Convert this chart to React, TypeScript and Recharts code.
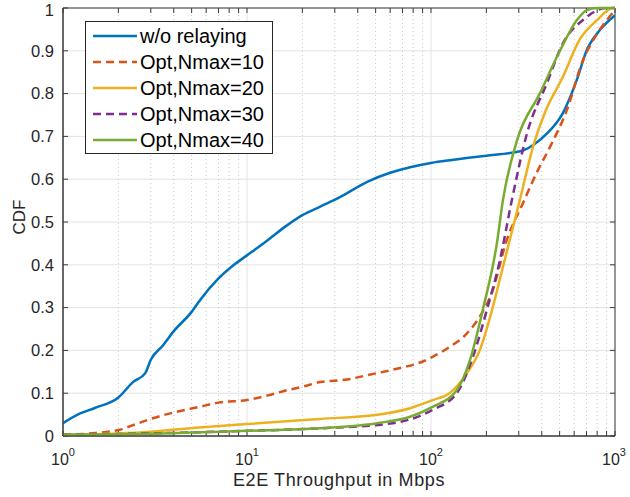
import React from 'react';
import { LineChart, Line, XAxis, YAxis, CartesianGrid, ReferenceLine, ReferenceArea, Legend } from 'recharts';

// series labels / colours (MATLAB default palette)
const seriesNames = ['w/o relaying', 'Opt,Nmax=10', 'Opt,Nmax=20', 'Opt,Nmax=30', 'Opt,Nmax=40'];
const seriesColors = ['#0072BD', '#D95319', '#EDB120', '#7E2F8E', '#77AC30'];
const seriesDashed = [false, true, false, true, false];

// throughput (Mbps) / CDF values
const noRelayX = [1, 1.2, 1.5, 2, 2.4, 2.8, 3, 3.5, 4, 5, 5.5, 7, 8.5, 10, 13, 16, 20, 25, 32, 45, 60, 77, 100, 130, 160, 200, 275, 320, 360, 430, 520, 620, 700, 830, 1000];
const noRelayY = [0.03, 0.05, 0.066, 0.09, 0.126, 0.147, 0.178, 0.212, 0.245, 0.29, 0.315, 0.368, 0.4, 0.422, 0.458, 0.488, 0.516, 0.536, 0.558, 0.594, 0.615, 0.628, 0.638, 0.645, 0.65, 0.655, 0.662, 0.668, 0.68, 0.708, 0.754, 0.832, 0.9, 0.949, 0.983];

const n10X = [1, 1.5, 2, 2.5, 3, 4, 5.5, 7, 10, 13, 16.5, 20, 25, 35, 45, 68, 85, 102, 126, 157, 189, 214, 258, 316, 380, 443, 548, 670, 800, 1000];
const n10Y = [0.003, 0.007, 0.014, 0.028, 0.04, 0.055, 0.068, 0.078, 0.084, 0.095, 0.107, 0.115, 0.126, 0.132, 0.142, 0.159, 0.17, 0.185, 0.208, 0.24, 0.287, 0.334, 0.458, 0.544, 0.62, 0.675, 0.762, 0.878, 0.94, 0.995];

const n20X = [1, 2, 3, 5.5, 10, 25, 50, 77, 102, 126, 157, 184, 217, 246, 304, 358, 420, 522, 640, 800, 975, 1000];
const n20Y = [0.003, 0.006, 0.01, 0.02, 0.028, 0.04, 0.049, 0.065, 0.084, 0.1, 0.147, 0.2, 0.302, 0.395, 0.551, 0.675, 0.76, 0.84, 0.925, 0.972, 1.0, 1.0];

const n30X = [1, 3, 10, 25, 62, 102, 138, 169, 201, 237, 275, 333, 427, 522, 670, 900, 1000];
const n30Y = [0.003, 0.006, 0.012, 0.018, 0.03, 0.061, 0.1, 0.185, 0.294, 0.411, 0.551, 0.708, 0.825, 0.918, 0.972, 1.0, 1.0];

const n40X = [1, 3, 5, 10, 25, 51, 77, 102, 138, 163, 191, 228, 246, 294, 390, 502, 621, 704, 800, 1000];
const n40Y = [0.003, 0.005, 0.008, 0.012, 0.018, 0.03, 0.045, 0.068, 0.107, 0.178, 0.294, 0.45, 0.551, 0.692, 0.8, 0.9, 0.972, 0.995, 1.0, 1.0];

// axes
const xTicks = [1, 10, 100, 1000];
const xMinor = [2, 3, 4, 5, 6, 7, 8, 9, 20, 30, 40, 50, 60, 70, 80, 90, 200, 300, 400, 500, 600, 700, 800, 900];
const yTicks = [0, 0.1, 0.2, 0.3, 0.4, 0.5, 0.6, 0.7, 0.8, 0.9, 1];
const yTickLabels = ['0', '0.1', '0.2', '0.3', '0.4', '0.5', '0.6', '0.7', '0.8', '0.9', '1'];

const toPoints = (xs: number[], ys: number[]) => xs.map((x, i) => ({ x, y: ys[i] }));
const seriesData = [
  toPoints(noRelayX, noRelayY),
  toPoints(n10X, n10Y),
  toPoints(n20X, n20Y),
  toPoints(n30X, n30Y),
  toPoints(n40X, n40Y),
];

const W = 630;
const H = 497;
const AXIS = '#3a3a3a';
const TXT = '#262626';
const FONT = '"Liberation Sans", Arial, Helvetica, sans-serif';

// inward tick lengths in data units (about 5px)
const xTickLen = Math.pow(10, 5 / 184);
const yTickLen = 5 / 428;

const XTick = (props: any) => {
  const { x, y, payload } = props;
  const exp = Math.round(Math.log10(payload.value));
  return (
    <text x={x} y={y} dy={29} textAnchor="middle" fill={TXT} fontSize={16} fontFamily={FONT}>
      10<tspan dy={-9} fontSize={11}>{exp}</tspan>
    </text>
  );
};

const YLabel = (props: any) => {
  const vb = props.viewBox || { x: 8, y: 8, width: 55, height: 428 };
  const tx = vb.x + 17;
  const ty = vb.y + vb.height / 2 - 5;
  return (
    <text x={tx} y={ty} transform={`rotate(-90, ${tx}, ${ty})`} textAnchor="middle" fill={TXT} fontSize={17} fontFamily={FONT}>
      CDF
    </text>
  );
};

const renderLegend = () => (
  <div
    style={{
      border: '1px solid #262626',
      background: '#fff',
      boxSizing: 'border-box',
      width: 188,
      height: 133,
      paddingTop: 1,
      fontFamily: FONT,
    }}
  >
    {seriesNames.map((name, i) => (
      <div key={name} style={{ display: 'flex', alignItems: 'center', height: 26 }}>
        <svg width={52} height={26} style={{ display: 'block' }}>
          <line
            x1={7}
            x2={51}
            y1={13}
            y2={13}
            stroke={seriesColors[i]}
            strokeWidth={2.5}
            strokeDasharray={seriesDashed[i] ? '8 5' : undefined}
          />
        </svg>
        <span style={{ fontSize: 20, color: '#000', marginLeft: 2, whiteSpace: 'nowrap', lineHeight: '26px' }}>{name}</span>
      </div>
    ))}
  </div>
);

export default function App() {
  return (
    <div style={{ position: 'absolute', left: 0, top: 0, width: W, height: H, background: '#fff', fontFamily: FONT }}>
      <LineChart width={W} height={H} margin={{ top: 8, right: 15, bottom: 0, left: 8 }}>
        <CartesianGrid stroke="#e3e3e3" strokeWidth={1} />
        {xMinor.map((v) => (
          <ReferenceLine key={`m${v}`} x={v} stroke="#c8c8c8" strokeDasharray="1 3" strokeWidth={1} />
        ))}
        <XAxis
          dataKey="x"
          type="number"
          scale="log"
          domain={[1, 1000]}
          ticks={xTicks}
          allowDataOverflow
          height={61}
          tickSize={0}
          tickMargin={0}
          tick={<XTick />}
          axisLine={{ stroke: AXIS }}
          label={{ value: 'E2E Throughput in Mbps', position: 'insideBottom', offset: 11, fill: TXT, fontSize: 18, style: { letterSpacing: 0.6, fontFamily: FONT } }}
        />
        <YAxis
          dataKey="y"
          type="number"
          domain={[0, 1]}
          ticks={yTicks}
          width={55}
          tickSize={0}
          tickMargin={9}
          tickFormatter={(v: number, i: number) => yTickLabels[i] ?? String(v)}
          tick={{ fill: TXT, fontSize: 16.5, fontFamily: FONT }}
          axisLine={{ stroke: AXIS }}
          label={{ content: <YLabel /> }}
        />
        <ReferenceArea x1={1} x2={1000} y1={0} y2={1} fill="none" fillOpacity={0} stroke={AXIS} strokeWidth={1} />
        {yTicks.map((t) => (
          <ReferenceLine key={`yl${t}`} segment={[{ x: 1, y: t }, { x: xTickLen, y: t }]} stroke={AXIS} ifOverflow="visible" />
        ))}
        {yTicks.map((t) => (
          <ReferenceLine key={`yr${t}`} segment={[{ x: 1000 / xTickLen, y: t }, { x: 1000, y: t }]} stroke={AXIS} ifOverflow="visible" />
        ))}
        {[...xTicks, ...xMinor].map((v) => (
          <ReferenceLine key={`xb${v}`} segment={[{ x: v, y: 0 }, { x: v, y: yTickLen }]} stroke={AXIS} ifOverflow="visible" />
        ))}
        {[...xTicks, ...xMinor].map((v) => (
          <ReferenceLine key={`xt${v}`} segment={[{ x: v, y: 1 - yTickLen }, { x: v, y: 1 }]} stroke={AXIS} ifOverflow="visible" />
        ))}
        {seriesData.map((d, i) => (
          <Line
            key={seriesNames[i]}
            data={d}
            dataKey="y"
            name={seriesNames[i]}
            type="monotone"
            stroke={seriesColors[i]}
            strokeWidth={2.5}
            strokeDasharray={seriesDashed[i] ? '8 5' : undefined}
            dot={false}
            activeDot={false}
            isAnimationActive={false}
          />
        ))}
        <Legend
          layout="vertical"
          align="center"
          verticalAlign="middle"
          width={188}
          height={133}
          wrapperStyle={{ left: 85, top: 21, width: 188, height: 133 }}
          content={renderLegend}
        />
      </LineChart>
    </div>
  );
}
